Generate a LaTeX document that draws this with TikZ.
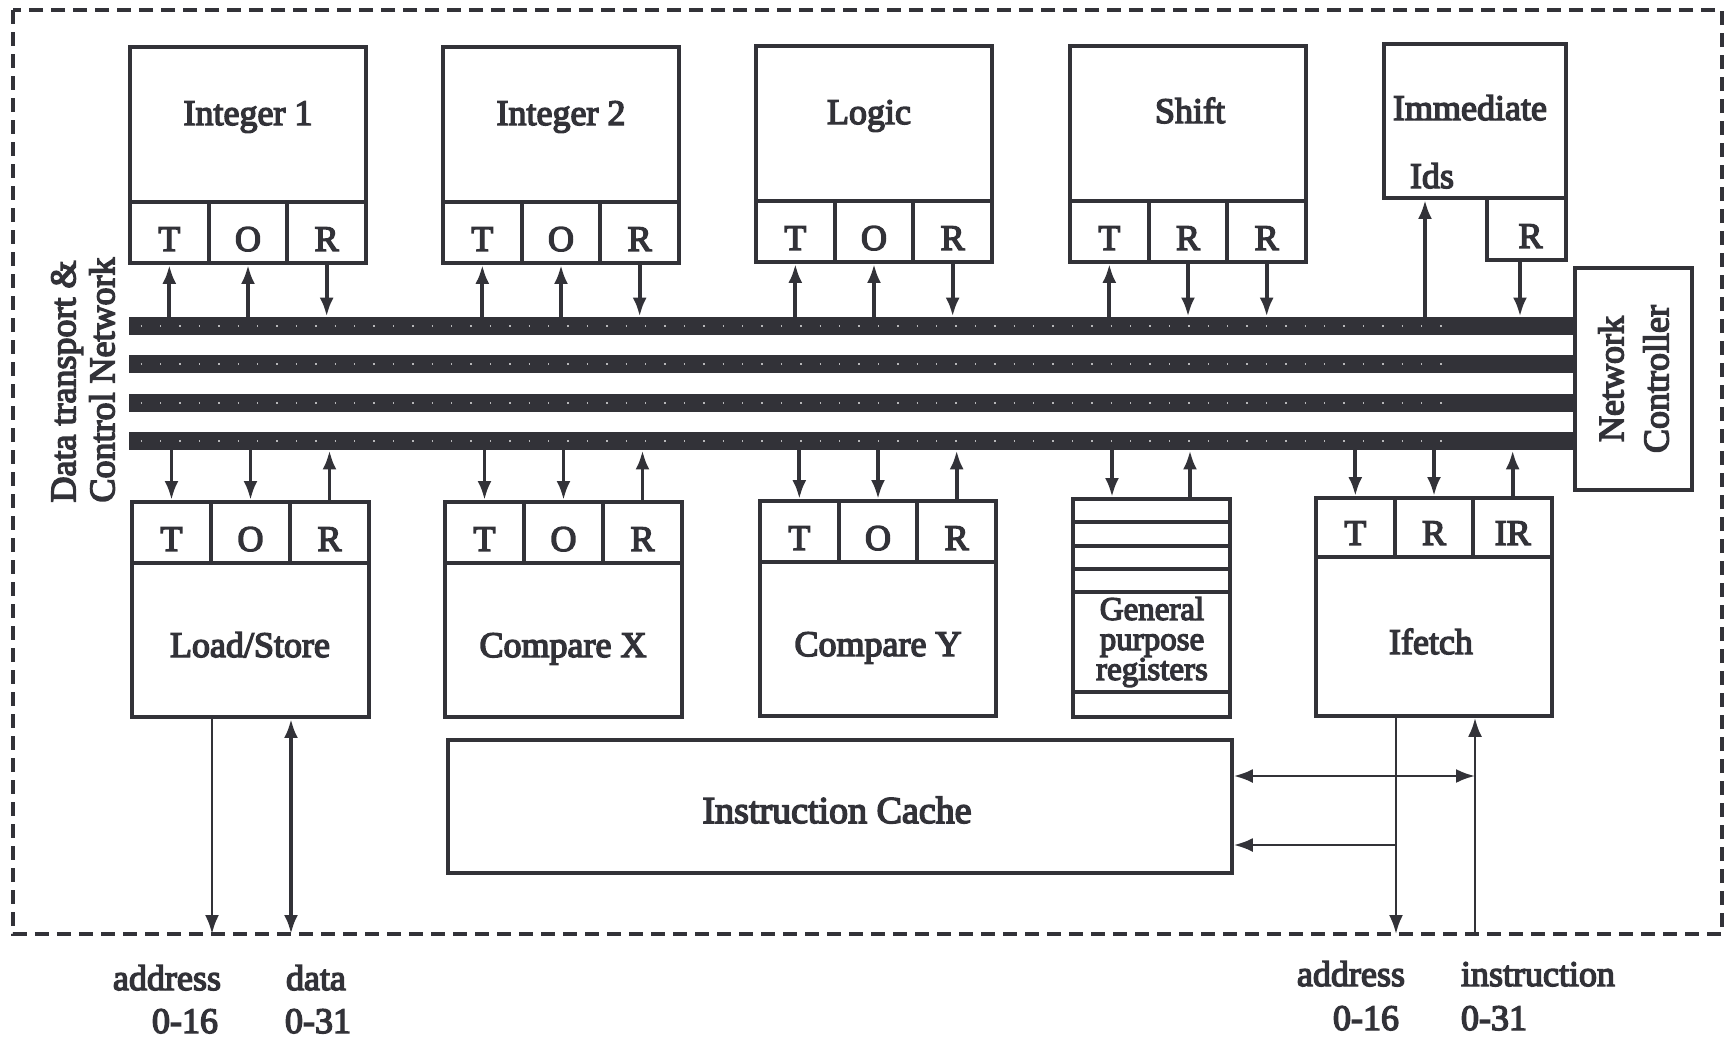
\documentclass[tikz,border=0pt]{standalone}
\usepackage{fontspec}
\setmainfont{Liberation Serif}[FakeBold=4]
\usetikzlibrary{fit,arrows.meta}
\definecolor{ink}{RGB}{50,50,56}
\newcommand\cellrow[8]{%
  \node[cell, fit={(#2,#3)(#2+#5,#4)}] (#1-1) {};
  \node[cell, fit={(#2+#5,#3)(#2+2*#5,#4)}] (#1-2) {};
  \node[cell, fit={(#2+2*#5,#3)(#2+3*#5,#4)}] (#1-3) {};
  \node[lbl] (#1-1t) at ([yshift=7pt]#1-1.south) {#6};
  \node[lbl] (#1-2t) at ([yshift=7pt]#1-2.south) {#7};
  \node[lbl] (#1-3t) at ([yshift=7pt]#1-3.south) {#8};
}
\begin{document}
\begin{tikzpicture}[x=0.5pt,y=-0.5pt,
  every node/.style={text=ink, font=\fontsize{18}{20}\selectfont, inner sep=0pt},
  box/.style={draw=ink, line width=1.9pt, fill=white, inner sep=0pt},
  cell/.style={box},
  bus/.style={fill=ink, draw=none, inner sep=0pt},
  tip/.tip={Latex[length=9.5pt,width=7pt]},
  arr/.style={draw=ink, line width=1.9pt, -tip},
  thinarr/.style={draw=ink, line width=1.4pt, -tip},
  lbl/.style={anchor=base},
]
\useasboundingbox (0,0) rectangle (1726,1039);
\fill[white] (0,0) rectangle (1726,1039);
% outer dashed border
\draw[ink, line width=1.8pt, dash pattern=on 7pt off 4pt] (13,10) rectangle (1722,934);

% buses
\node[bus, fit={(129,317)(1575,335)}] (bus1) {};
\node[bus, fit={(129,355)(1575,373)}] (bus2) {};
\node[bus, fit={(129,394)(1575,412)}] (bus3) {};
\node[bus, fit={(129,432)(1575,450)}] (bus4) {};
\foreach \b in {bus1,bus2,bus3,bus4}
  \draw[white!65!ink, line width=0.7pt, dash pattern=on 0.7pt off 9pt] ([xshift=6pt]\b.west) -- ([xshift=-60pt]\b.east);

% network controller
\node[box, fit={(1575,268)(1692,490)}] (nc) {};
\node[rotate=90, align=center, font=\fontsize{18}{22.5}\selectfont] (nclbl) at (nc.center) {Network\\Controller};

% left label
\node[rotate=90, align=left, font=\fontsize{18}{19.5}\selectfont] (dtcn) at (83,380) {Data transport \&\\Control Network};

% top row units
\node[box, fit={(130,47)(366,263)}] (int1) {};
\cellrow{int1}{130}{202}{263}{78.67}{T}{O}{R}
\node[lbl] (int1lbl) at (248,125) {Integer 1};

\node[box, fit={(443,47)(679,263)}] (int2) {};
\cellrow{int2}{443}{202}{263}{78.67}{T}{O}{R}
\node[lbl] (int2lbl) at (561,125) {Integer 2};

\node[box, fit={(756,46)(992,262)}] (logic) {};
\cellrow{logic}{756}{201}{262}{78.67}{T}{O}{R}
\node[lbl] (logiclbl) at (869,124) {Logic};

\node[box, fit={(1070,46)(1306,262)}] (shift) {};
\cellrow{shift}{1070}{201}{262}{78.67}{T}{R}{R}
\node[lbl] (shiftlbl) at (1190,123) {Shift};

\node[box, fit={(1384,44)(1566,198)}] (imm) {};
\node[cell, fit={(1487,198)(1566,260)}] (imm-r) {};
\node[lbl] (imm-rt) at ([xshift=2pt,yshift=7pt]imm-r.south) {R};
\node[lbl] (immlbl) at (1470,120) {Immediate};
\node[lbl] (idslbl) at (1432,188) {Ids};

% top row arrows
\foreach \u in {int1,int2,logic}{
  \draw[arr] (\u-1.south |- bus1.north) -- (\u-1.south);
  \draw[arr] (\u-2.south |- bus1.north) -- (\u-2.south);
  \draw[arr] (\u-3.south) -- (\u-3.south |- bus1.north);
}
\draw[arr] (shift-1.south |- bus1.north) -- (shift-1.south);
\draw[arr] (shift-2.south) -- (shift-2.south |- bus1.north);
\draw[arr] (shift-3.south) -- (shift-3.south |- bus1.north);
\coordinate (idsx) at (1425,198);
\draw[arr] (idsx |- bus1.north) -- (idsx |- imm.south);
\coordinate (immrx) at (1520,260);
\draw[arr] (immrx |- imm-r.south) -- (immrx |- bus1.north);

% bottom row units
\node[box, fit={(132,502)(369,717)}] (ls) {};
\cellrow{ls}{132}{502}{563}{79}{T}{O}{R}
\node[lbl] (lslbl) at (250,657) {Load/Store};

\node[box, fit={(445,502)(682,717)}] (cx) {};
\cellrow{cx}{445}{502}{563}{79}{T}{O}{R}
\node[lbl] (cxlbl) at (563,657) {Compare X};

\node[box, fit={(760,501)(996,716)}] (cy) {};
\cellrow{cy}{760}{501}{562}{78.67}{T}{O}{R}
\node[lbl] (cylbl) at (878,656) {Compare Y};

\node[box, fit={(1073,499)(1230,717)}] (gpr) {};
\foreach \yy in {522,546,569,592,692}
  \draw[ink, line width=1.9pt] (1073,\yy) -- (1230,\yy);
\node[align=center, font=\fontsize{16.5}{15}\selectfont] (gprlbl) at (1152,642) {General\\purpose\\registers};

\node[box, fit={(1316,498)(1552,716)}] (if) {};
\cellrow{if}{1316}{498}{557}{78.67}{T}{R}{IR}
\node[lbl] (iflbl) at (1431,654) {Ifetch};

% bottom row arrows
\foreach \u in {ls,cx,cy,if}{
  \draw[arr] (bus4.south -| \u-1.north) -- (\u-1.north);
  \draw[arr] (bus4.south -| \u-2.north) -- (\u-2.north);
  \draw[arr] (\u-3.north) -- (bus4.south -| \u-3.north);
}
\coordinate (gprin) at (1112,499);
\coordinate (gprout) at (1190,499);
\draw[arr] (bus4.south -| gprin) -- (gprin |- gpr.north);
\draw[arr] (gprout |- gpr.north) -- (bus4.south -| gprout);

% instruction cache
\node[box, fit={(448,740)(1232,873)}] (cache) {};
\node[lbl, font=\fontsize{19}{21}\selectfont] (cachelbl) at (837,823) {Instruction Cache};

% external lines of load/store
\coordinate (lsaddr) at (212,934);
\coordinate (lsdata) at (291,934);
\draw[thinarr] (lsaddr |- ls.south) -- (lsaddr);
\draw[draw=ink, line width=2.2pt, tip-tip] (lsdata |- ls.south) -- (lsdata);

% ifetch lines
\coordinate (ifaddr) at (1396,934);
\coordinate (ifinst) at (1475,934);
\draw[thinarr] (ifaddr |- if.south) -- (ifaddr);
\draw[thinarr] (ifinst) -- (ifinst |- if.south);
\coordinate (cacheA) at (1475,776);
\coordinate (cacheB) at (1396,845);
\draw[draw=ink, line width=1.3pt, tip-tip] (cache.east |- cacheA) -- (cacheA);
\draw[draw=ink, line width=1.3pt, -tip] (cacheB) -- (cache.east |- cacheB);

% bottom labels
\node[lbl] (la1) at (167,990) {address};
\node[lbl] (ld1) at (316,990) {data};
\node[lbl] (la2) at (185,1033) {0-16};
\node[lbl] (ld2) at (318,1033) {0-31};
\node[lbl] (ra1) at (1351,986) {address};
\node[lbl] (ri1) at (1538,986) {instruction};
\node[lbl] (ra2) at (1366,1030) {0-16};
\node[lbl] (ri2) at (1494,1030) {0-31};
\end{tikzpicture}
\end{document}
